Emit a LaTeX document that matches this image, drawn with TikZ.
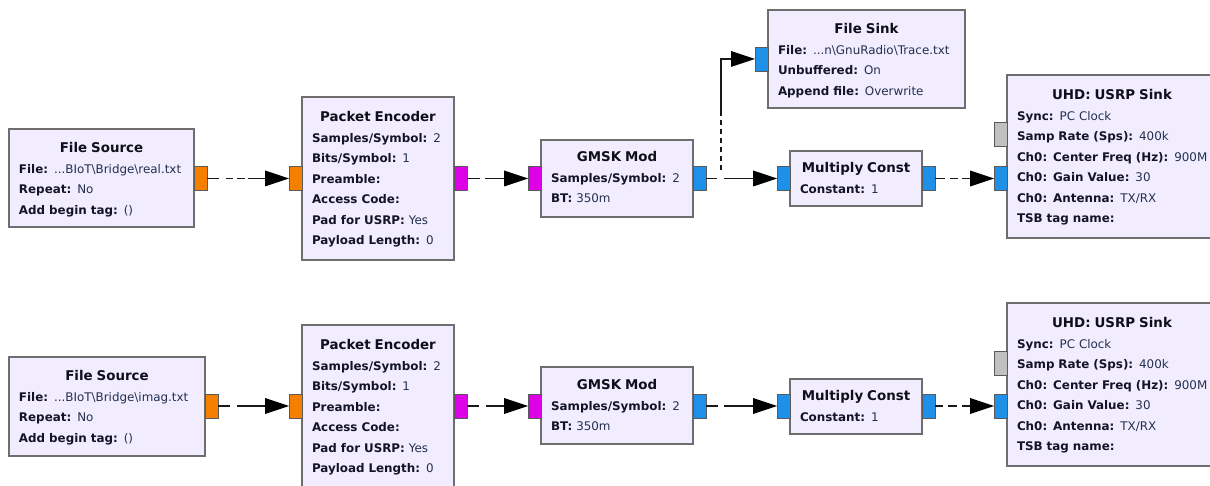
\documentclass[tikz,border=0pt]{standalone}
\usepackage{fontspec}
\setmainfont{DejaVu Sans}
\usetikzlibrary{arrows.meta,calc}

\definecolor{boxfill}{RGB}{241,237,255}
\definecolor{boxedge}{RGB}{110,110,110}
\definecolor{portedge}{RGB}{90,90,90}
\definecolor{porange}{RGB}{245,128,0}
\definecolor{pmagenta}{RGB}{222,0,230}
\definecolor{pblue}{RGB}{30,144,232}
\definecolor{pgray}{RGB}{192,192,192}
\definecolor{labelc}{RGB}{20,20,40}
\definecolor{valc}{RGB}{35,48,80}
\definecolor{titlec}{RGB}{15,15,25}
\definecolor{linec}{RGB}{25,25,25}

% fonts of the block texts
\newcommand{\propfont}{\fontsize{11.9}{20.5}\selectfont}
\newcommand{\ttl}[1]{{\fontsize{13.4}{20.5}\selectfont\bfseries\color{titlec}#1\par}}
\newcommand{\kv}[2]{\mbox{\textbf{#1} {\color{valc}#2}}}
\newcommand{\bs}{\textbackslash}

\tikzset{
  block/.style={draw=boxedge, fill=boxfill, line width=1.1pt, rectangle,
    inner sep=0pt, outer sep=0pt, anchor=north west},
  btext/.style={inner sep=0pt, outer sep=0pt, font=\propfont, text=labelc},
  port/.style={draw=portedge, line width=0.9pt, rectangle, minimum width=13pt,
    minimum height=24pt, inner sep=0pt, outer sep=0pt},
  conn/.style={draw=linec, line width=1.3pt,
    -{Triangle[length=24pt,width=16pt,fill=black,line width=0pt]}},
}

% name, x, y, width, height, title centre y, text width, title, parameter lines
\newcommand{\grblock}[9]{%
  \node[block, minimum width=#4pt, minimum height=#5pt] (#1) at (#2,#3) {};
  \node[btext, text width=#7pt, anchor=north] (#1t) at ($(#1.north)+(0,{#6-#3-5.3})$)
    {\parindent=0pt\parskip=0pt\hbadness=10000\hfuzz=100pt{\centering\ttl{#8}}\raggedright#9};
}

\begin{document}
\begin{tikzpicture}[x=1pt,y=-1pt]
\useasboundingbox (0,0) rectangle (1210,486);
\fill[white] (0,0) rectangle (1210,486);

% ---------- upper chain (real part) ----------
\grblock{fs1}{9}{129}{185}{98}{148}{165}{File Source}
  {\kv{File:}{...BIoT\bs Bridge\bs real.txt}\\\kv{Repeat:}{No}\\\kv{Add begin tag:}{()}}
\grblock{pe1}{302}{97}{152}{163}{117}{132}{Packet Encoder}
  {\kv{Samples/Symbol:}{2}\\\kv{Bits/Symbol:}{1}\\\kv{Preamble:}{}\\\kv{Access Code:}{}\\\kv{Pad for USRP:}{Yes}\\\kv{Payload Length:}{0}}
\grblock{gm1}{541}{140}{152}{77}{157}{132}{GMSK Mod}
  {\kv{Samples/Symbol:}{2}\\\kv{BT:}{350m}}
\grblock{mc1}{790}{151}{132}{55}{168}{112}{Multiply Const}
  {\kv{Constant:}{1}}
\grblock{us1}{1007}{75}{210}{163}{95}{190}{UHD: USRP Sink}
  {\kv{Sync:}{PC Clock}\\\kv{Samp Rate (Sps):}{400k}\\\kv{Ch0: Center Freq (Hz):}{900M}\\\kv{Ch0: Gain Value:}{30}\\\kv{Ch0: Antenna:}{TX/RX}\\\kv{TSB tag name:}{}}
\grblock{fsk}{768}{10}{197}{98}{29}{177}{File Sink}
  {\kv{File:}{...n\bs GnuRadio\bs Trace.txt}\\\kv{Unbuffered:}{On}\\\kv{Append file:}{Overwrite}}

\node[port, fill=porange]  (fs1o) at (200.5,178.5) {};
\node[port, fill=porange]  (pe1i) at (295.5,178.5) {};
\node[port, fill=pmagenta] (pe1o) at (460.5,178.5) {};
\node[port, fill=pmagenta] (gm1i) at (534.5,178.5) {};
\node[port, fill=pblue]    (gm1o) at (699.5,178.5) {};
\node[port, fill=pblue]    (mc1i) at (783.5,178.5) {};
\node[port, fill=pblue]    (mc1o) at (928.5,178.5) {};
\node[port, fill=pgray]    (us1g) at (1000.5,134.5) {};
\node[port, fill=pblue]    (us1i) at (1000.5,178.5) {};
\node[port, fill=pblue]    (fski) at (761.5,59) {};

\draw[conn, dash pattern=on 12pt off 7pt on 7pt off 4pt on 8pt off 3pt on 600pt] (fs1o.east) -- (pe1i.west);
\draw[conn, dash pattern=on 13pt off 5pt on 600pt] (pe1o.east) -- (gm1i.west);
\draw[conn, dash pattern=on 11pt off 7pt on 600pt] (gm1o.east) -- (mc1i.west);
\draw[conn, dash pattern=on 10pt off 5pt on 8pt off 4pt on 600pt] (mc1o.east) -- (us1i.west);
\coordinate (tap) at (721,178.5);
\draw[conn, dash pattern=on 11pt off 12pt on 5pt off 4pt on 5pt off 4pt on 5pt off 4pt on 5pt off 4pt on 5pt off 4pt on 5pt off 4pt on 600pt]
  (gm1o.east) -- (tap) |- (fski.west);

% ---------- lower chain (imaginary part) ----------
\grblock{fs2}{9}{357}{196}{99}{376}{176}{File Source}
  {\kv{File:}{...BIoT\bs Bridge\bs imag.txt}\\\kv{Repeat:}{No}\\\kv{Add begin tag:}{()}}
\grblock{pe2}{302}{325}{152}{163}{345}{132}{Packet Encoder}
  {\kv{Samples/Symbol:}{2}\\\kv{Bits/Symbol:}{1}\\\kv{Preamble:}{}\\\kv{Access Code:}{}\\\kv{Pad for USRP:}{Yes}\\\kv{Payload Length:}{0}}
\grblock{gm2}{541}{367}{152}{77}{385}{132}{GMSK Mod}
  {\kv{Samples/Symbol:}{2}\\\kv{BT:}{350m}}
\grblock{mc2}{790}{379}{132}{55}{396}{112}{Multiply Const}
  {\kv{Constant:}{1}}
\grblock{us2}{1007}{303}{210}{163}{323}{190}{UHD: USRP Sink}
  {\kv{Sync:}{PC Clock}\\\kv{Samp Rate (Sps):}{400k}\\\kv{Ch0: Center Freq (Hz):}{900M}\\\kv{Ch0: Gain Value:}{30}\\\kv{Ch0: Antenna:}{TX/RX}\\\kv{TSB tag name:}{}}

\node[port, fill=porange]  (fs2o) at (211.5,406) {};
\node[port, fill=porange]  (pe2i) at (295.5,406) {};
\node[port, fill=pmagenta] (pe2o) at (460.5,406) {};
\node[port, fill=pmagenta] (gm2i) at (534.5,406) {};
\node[port, fill=pblue]    (gm2o) at (699.5,406) {};
\node[port, fill=pblue]    (mc2i) at (783.5,406) {};
\node[port, fill=pblue]    (mc2o) at (928.5,406) {};
\node[port, fill=pgray]    (us2g) at (1000.5,363) {};
\node[port, fill=pblue]    (us2i) at (1000.5,406) {};

\draw[conn, dash pattern=on 12pt off 7pt on 600pt] (fs2o.east) -- (pe2i.west);
\draw[conn, dash pattern=on 12pt off 7pt on 600pt] (pe2o.east) -- (gm2i.west);
\draw[conn, dash pattern=on 12pt off 6pt on 600pt] (gm2o.east) -- (mc2i.west);
\draw[conn, dash pattern=on 8pt off 5pt on 9pt off 5pt on 600pt] (mc2o.east) -- (us2i.west);
\end{tikzpicture}
\end{document}
